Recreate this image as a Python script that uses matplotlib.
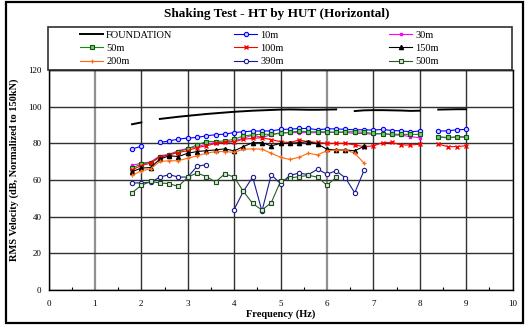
import numpy as np
import matplotlib
matplotlib.use("Agg")
import matplotlib.pyplot as plt
from matplotlib.patches import Rectangle

nan = np.nan
freq = [1.8, 2.0, 2.2, 2.4, 2.6, 2.8, 3.0, 3.2, 3.4, 3.6, 3.8, 4.0, 4.2, 4.4, 4.6, 4.8,
        5.0, 5.2, 5.4, 5.6, 5.8, 6.0, 6.2, 6.4, 6.6, 6.8, 7.0, 7.2, 7.4, 7.6, 7.8, 8.0,
        8.2, 8.4, 8.6, 8.8, 9.0]

foundation = [90.4, 91.4, nan, 93.3, 93.9, 94.5, 95.0, 95.5, 96.0, 96.4, 96.8, 97.2, 97.5,
              97.8, 98.0, 98.2, 98.4, 98.5, 98.4, 98.3, 98.3, 98.4, 98.5, nan, 97.6, 98.0,
              98.1, 98.1, 98.0, 97.9, 97.7, 97.8, nan, 98.4, 98.5, 98.6, 98.6]
m10 = [76.9, 78.4, nan, 80.5, 81.3, 82.3, 82.9, 83.2, 84.1, 84.7, 85.0, 85.9, 86.3, 86.7,
       86.7, 86.8, 87.6, 87.7, 88.1, 88.1, 87.4, 87.9, 87.9, 87.6, 87.4, 87.4, 87.2, 87.6,
       87.0, 86.8, 86.3, 86.7, nan, 86.7, 86.8, 87.4, 87.6]
m30 = [68.0, 69.2, 69.8, 73.2, 74.0, 76.0, 77.3, 78.2, 79.5, 80.4, 80.5, 81.4, 82.7, 84.5,
       83.2, 84.7, 85.8, 85.8, 85.9, 85.8, 85.8, 85.9, 86.0, 86.0, 85.4, 85.4, 84.9, 85.4,
       84.5, 84.5, 83.6, 83.1, nan, 83.4, 83.0, 83.3, 83.4]
m50 = [66.5, 68.8, 69.5, 72.8, 73.7, 75.5, 77.0, 79.1, 81.0, 81.0, 81.3, 82.2, 84.0, 84.7,
       84.9, 84.9, 85.4, 86.0, 86.7, 86.3, 86.3, 86.3, 86.0, 86.3, 86.3, 86.0, 85.4, 85.2,
       85.0, 84.9, 84.9, 84.9, nan, 83.6, 83.2, 83.6, 83.6]
m100 = [65.5, 67.9, 69.2, 72.4, 73.7, 75.0, 76.0, 77.7, 78.6, 80.0, 80.5, 80.9, 82.2, 82.7,
        83.1, 82.0, 80.9, 80.4, 81.8, 80.9, 80.5, 80.0, 80.0, 80.0, 79.1, 78.2, 78.6, 80.4,
        80.5, 79.1, 79.1, 79.5, nan, 79.6, 78.2, 78.2, 78.7]
m150 = [64.5, 66.5, 66.8, 71.4, 73.2, 72.8, 74.6, 75.5, 76.0, 76.4, 77.0, 75.9, 78.2, 80.4,
        80.4, 78.6, 80.0, 80.0, 80.4, 80.9, 79.6, 76.8, 76.4, 76.4, 75.9, 78.4, nan, nan,
        nan, nan, nan, nan, nan, nan, nan, nan, nan]
m200 = [62.5, 65.0, 66.1, 70.1, 70.5, 70.5, 71.9, 73.2, 74.6, 75.5, 75.5, 75.1, 76.8, 77.0,
        76.8, 74.6, 72.4, 71.2, 72.4, 74.6, 73.7, 76.0, 76.4, 76.4, 74.6, 69.2, nan, nan,
        nan, nan, nan, nan, nan, nan, nan, nan, nan]
m390 = [58.4, 58.4, 58.7, 61.6, 62.9, 61.6, 61.6, 67.4, 68.4, nan, nan, 43.9, 53.8, 61.6,
        43.0, 62.9, 58.0, 62.5, 63.8, 62.9, 65.9, 63.2, 65.0, 61.1, 53.0, 65.2, nan, nan,
        nan, nan, nan, nan, nan, nan, nan, nan, nan]
m500 = [53.0, 57.1, 59.2, 58.4, 58.0, 56.5, 61.6, 63.8, 61.9, 58.9, 63.4, 61.6, 53.8, 47.2,
        43.6, 47.6, 59.2, 61.1, 61.8, 62.5, 61.6, 57.1, 61.4, nan, nan, nan, nan, nan,
        nan, nan, nan, nan, nan, nan, nan, nan, nan]

labels = ["FOUNDATION", "10m", "30m", "50m", "100m", "150m", "200m", "390m", "500m"]
xticks = [0, 1, 2, 3, 4, 5, 6, 7, 8, 9, 10]
yticks = [0, 20, 40, 60, 80, 100, 120]

plt.rcParams['font.family'] = ['Liberation Serif', 'DejaVu Serif']

W, H = 525, 327
fig = plt.figure(figsize=(W / 100, H / 100), dpi=100)
ax = fig.add_axes([48.5 / W, 1 - 290 / H, (512.5 - 48.5) / W, (290 - 70) / H])

styles = [
    dict(color='black', lw=1.4),
    dict(color='#0000ff', lw=0.8, marker='o', ms=3.1, mfc='#d0d0ff', mec='#0000ff', mew=0.8),
    dict(color='#ff00ff', lw=0.8, marker='s', ms=2.0, mfc='#ff00ff', mec='#ff00ff'),
    dict(color='#109010', lw=0.8, marker='s', ms=3.0, mfc='#80c080', mec='#006000', mew=0.8),
    dict(color='#ff0000', lw=0.8, marker='x', ms=3.2, mec='#ff0000', mew=1.0),
    dict(color='#000000', lw=0.8, marker='^', ms=3.0, mfc='#000000', mec='#000000'),
    dict(color='#ff6a10', lw=0.8, marker='+', ms=3.4, mec='#ff6a10', mew=0.9),
    dict(color='#1a1a90', lw=0.8, marker='o', ms=3.1, mfc='white', mec='#1a1a90', mew=0.8),
    dict(color='#2a5a2a', lw=0.8, marker='s', ms=3.1, mfc='#d8ead8', mec='#1f4a1f', mew=0.8),
]
series = [foundation, m10, m30, m50, m100, m150, m200, m390, m500]
handles = []
for lab, vals, st in zip(labels, series, styles):
    h, = ax.plot(freq, vals, label=lab, **st)
    handles.append(h)

ax.set_xlim(0, 10)
ax.set_ylim(0, 120)
ax.set_xticks(xticks)
ax.set_yticks(yticks)
ax.set_xticks([0.5 + i for i in range(10)], minor=True)
ax.tick_params(axis='both', which='both', direction='in', labelsize=6.5, colors='black')
ax.tick_params(axis='x', which='major', length=0, pad=7)
ax.tick_params(axis='x', which='minor', length=2.5, width=0.8)
ax.tick_params(axis='y', which='major', length=0, pad=5)
ax.grid(True, which='major', color='#303030', lw=1.0)
for i, gl in enumerate(ax.xaxis.get_gridlines()):
    if i in (1, 6):
        gl.set_color('#909090')
        gl.set_linewidth(1.6)
ax.set_axisbelow(True)
for sp in ax.spines.values():
    sp.set_color('black')
    sp.set_linewidth(1.0)

ax.set_xlabel('Frequency (Hz)', fontsize=7.5, fontweight='bold', labelpad=1)
fig.text(14 / W, 1 - 170 / H, 'RMS Velocity (dB, Normalized to 150kN)', rotation=90,
         fontsize=7.5, fontweight='bold', ha='center', va='center')
fig.text(277 / W, 1 - 14 / H, 'Shaking Test - HT by HUT (Horizontal)', fontsize=9.5,
         fontweight='bold', ha='center', va='center')

# legend frame
fig.patches.append(Rectangle((48 / W, 1 - 70 / H), (512 - 48) / W, (70 - 27) / H,
                             transform=fig.transFigure, fill=False, ec='#303030', lw=1.2))
# outer frame
fig.patches.append(Rectangle((6 / W, 1 - 323 / H), (523 - 6) / W, (323 - 2) / H,
                             transform=fig.transFigure, fill=False, ec='black', lw=1.6))

cols = [[0, 3, 6], [1, 4, 7], [2, 5, 8]]
colx = [78, 232, 387]
for cx, idx in zip(colx, cols):
    fig.legend([handles[i] for i in idx], [labels[i] for i in idx],
               loc='upper left', bbox_to_anchor=(cx / W, 1 - 28.5 / H),
               frameon=False, fontsize=7.5, handlelength=2.2, handletextpad=0.3,
               labelspacing=0.38, borderpad=0.2, borderaxespad=0)

fig.savefig('out.png', dpi=100, facecolor='white')
